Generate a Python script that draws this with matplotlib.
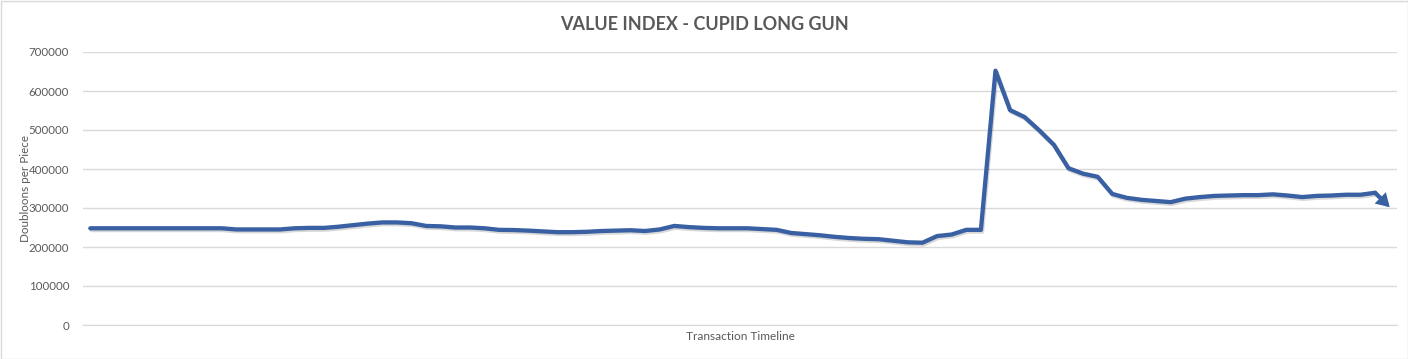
import matplotlib
matplotlib.use("Agg")
import matplotlib.pyplot as plt
import matplotlib.patheffects as pe
from matplotlib.patches import Rectangle

# data
value_index = [
    248000, 248000, 248000, 248000, 248000, 248000, 248000, 248000, 248000, 248000,
    245000, 245000, 245000, 245000, 248000, 249000, 249000, 252000, 256000, 260000,
    263000, 263000, 261000, 254000, 253000, 250000, 250000, 248000, 244000, 243500,
    242000, 240000, 238000, 238000, 239000, 241000, 242000, 243000, 241000, 245000,
    254000, 251000, 249000, 248000, 248000, 248000, 246000, 244000, 236000, 233000,
    230000, 226000, 223000, 221000, 220000, 216000, 212000, 211000, 228000, 232000,
    244000, 244000, 652000, 551000, 533000, 499000, 462000, 402000, 388000, 380000,
    336000, 326000, 321000, 318000, 315000, 324000, 328000, 331000, 332000, 333000,
    333000, 335000, 332000, 328000, 331000, 332000, 334000, 334000, 339000, 302000,
]
transactions = list(range(1, len(value_index) + 1))
y_ticks = [0, 100000, 200000, 300000, 400000, 500000, 600000, 700000]

text_color = "#595959"
grid_color = "#d9d9d9"
line_color = "#3a60a4"
plt.rcParams["font.family"] = ["Lato", "DejaVu Sans"]

fig = plt.figure(figsize=(14.08, 3.59), dpi=100)
ax = fig.add_axes([83 / 1408, 34 / 359, 1314 / 1408, 273 / 359])

shadow = [pe.SimpleLineShadow(offset=(0.8, -1.3), shadow_color="#000000", alpha=0.15),
          pe.Normal()]
ax.plot(transactions[:-1], value_index[:-1], color=line_color, lw=3.1,
        solid_joinstyle="round", solid_capstyle="round", path_effects=shadow, zorder=3)
# final segment drawn as an arrow
ax.annotate("", xy=(transactions[-1], value_index[-1]),
            xytext=(transactions[-2], value_index[-2]),
            arrowprops=dict(arrowstyle="-|>,head_length=0.5,head_width=0.3",
                            color=line_color, lw=3.1,
                            mutation_scale=10, shrinkA=0, shrinkB=0,
                            capstyle="round", joinstyle="miter"),
            zorder=3)

ax.set_xlim(0.5, len(value_index) + 0.5)
ax.set_ylim(0, 700000)
ax.set_yticks(y_ticks)
ax.set_yticklabels([str(v) for v in y_ticks], color=text_color, fontsize=8.3)
ax.set_xticks([])
ax.tick_params(axis="y", length=0, pad=10)
ax.grid(True, axis="y", color=grid_color, lw=1)
ax.set_axisbelow(True)
for s in ["top", "right", "left"]:
    ax.spines[s].set_visible(False)
ax.spines["bottom"].set_color(grid_color)

ax.set_xlabel("Transaction Timeline", color=text_color, fontsize=8.6, labelpad=4)
ax.set_ylabel("Doubloons per Piece", color=text_color, fontsize=8.4)
ax.yaxis.set_label_coords(-52 / 1314, 0.5)

fig.text(0.5, 1 - 24 / 359, "VALUE INDEX - CUPID LONG GUN", ha="center", va="center",
         fontsize=13, fontweight="bold", color=text_color)

fig.patches.append(Rectangle((0.5 / 1408, 0.5 / 359), 1 - 1 / 1408, 1 - 1 / 359,
                             transform=fig.transFigure, fill=False,
                             edgecolor=grid_color, lw=1))

fig.savefig("out.png", dpi=100)
